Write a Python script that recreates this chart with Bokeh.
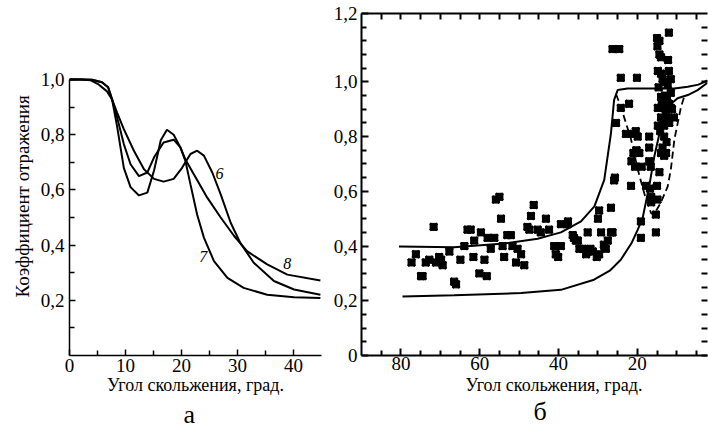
from bokeh.plotting import figure
from bokeh.models import Range1d, FixedTicker, LinearAxis, Title, CustomJSTickFormatter
from bokeh.layouts import row
from bokeh.embed import file_html
from bokeh.resources import INLINE

FONT = "Liberation Serif, serif"

# ---------------- panel a: reflection coefficient curves ----------------
x_label_text = "Угол скольжения, град."
a_ylabel = "Коэффициент отражения"
panel_names = ["а", "б"]
a_xticks = [0, 10, 20, 30, 40]
a_xminor = [5, 15, 25, 35]
a_yticks = [0.2, 0.4, 0.6, 0.8, 1.0]
a_yminor = [0.1, 0.3, 0.5, 0.7, 0.9]

c6_angle = [0, 2, 3.8, 5.2, 6.7, 7.6, 8.5, 9.7, 11.5, 13.3, 15.1, 16.8, 18.6, 20.1, 21.6,
            22.8, 24.0, 25.5, 27.0, 28.8, 30.5, 32.9, 36.5, 40.1, 44.8]
c6_coef = [1.0, 1.0, 0.997, 0.982, 0.957, 0.928, 0.88, 0.82, 0.742, 0.675, 0.64, 0.63, 0.64,
           0.68, 0.73, 0.742, 0.724, 0.663, 0.584, 0.48, 0.408, 0.336, 0.27, 0.239, 0.22]

c7_angle = [0, 2, 4, 5.8, 6.9, 7.6, 8.5, 9.7, 10.9, 12.4, 13.9, 15.1, 16.3, 17.4, 18.6,
            19.8, 20.7, 21.6, 22.8, 24.0, 25.8, 28.2, 31.1, 35.3, 40.1, 44.8]
c7_coef = [1.0, 1.0, 0.999, 0.99, 0.972, 0.928, 0.83, 0.68, 0.61, 0.58, 0.59, 0.67, 0.78,
           0.818, 0.80, 0.754, 0.705, 0.62, 0.51, 0.427, 0.342, 0.281, 0.245, 0.22, 0.211, 0.208]

c8_angle = [0, 2, 4, 5.8, 6.9, 7.6, 8.5, 9.7, 10.9, 12.4, 13.9, 15.1, 16.8, 18.6, 19.8,
            20.7, 22.2, 24.6, 27.0, 29.4, 31.7, 35.3, 38.9, 44.8]
c8_coef = [1.0, 1.0, 0.999, 0.99, 0.972, 0.928, 0.863, 0.766, 0.693, 0.65, 0.663, 0.718,
           0.772, 0.782, 0.754, 0.71, 0.657, 0.572, 0.50, 0.433, 0.378, 0.33, 0.293, 0.272]

curve_names = ["6", "7", "8"]
curve_label_x = [26.8, 23.9, 38.9]
curve_label_y = [0.66, 0.359, 0.334]

# ---------------- panel b: measurements and model envelope ----------------
b_xticks = [80, 60, 40, 20]
b_xminor = [85, 75, 70, 65, 55, 50, 45, 35, 30, 25, 15, 10, 5]
b_yticks = [0, 0.2, 0.4, 0.6, 0.8, 1.0, 1.25]
b_yminor = [0.05, 0.1, 0.15, 0.25, 0.3, 0.35, 0.45, 0.5, 0.55, 0.65, 0.7, 0.75, 0.85, 0.9,
            0.95, 1.05, 1.1, 1.15, 1.2]

upper_angle = [80.5, 66.5, 53.8, 45.3, 39.4, 34.3, 30.9, 28.4, 26.7, 25.9, 25.0, 22.5,
               15.7, 10.6, 7.2, 4.5, 2.2]
upper_coef = [0.398, 0.396, 0.409, 0.427, 0.45, 0.49, 0.545, 0.642, 0.812, 0.934, 0.97,
              0.976, 0.976, 0.976, 0.982, 0.99, 1.005]

lower_angle = [79.6, 66.5, 49.5, 39.4, 31.0, 27.0, 24.2, 21.5, 19.9, 18.7, 17.0, 15.7,
               14.0, 12.3, 9.8, 7.2, 4.7, 2.2]
lower_coef = [0.216, 0.22, 0.228, 0.24, 0.277, 0.31, 0.35, 0.41, 0.46, 0.50, 0.618, 0.727,
              0.836, 0.909, 0.94, 0.952, 0.97, 0.997]

dash_angle = [25.4, 24.2, 21.6, 19.9, 18.0, 16.5, 15.8, 14.0, 12.3, 11.5, 10.6, 8.9, 8.1, 7.2]
dash_coef = [0.955, 0.91, 0.79, 0.68, 0.58, 0.52, 0.515, 0.56, 0.618, 0.68, 0.79, 0.91,
             0.946, 0.952]

meas_angle = [77.3, 76.2, 74.9, 74.5, 73.7, 72.8, 71.7, 71.1, 70.3, 69.8, 69.4, 67.7, 66.5,
              66.0, 64.9, 63.9, 63.1, 62.3, 61.6, 61.4, 60.1, 59.7, 58.8, 58.2, 58.0, 57.2,
              56.3, 55.9, 55.0, 54.6, 54.2, 53.8, 53.0, 52.1, 51.7, 50.8, 50.4, 49.5, 48.7,
              47.9, 47.4, 47.0, 46.3, 45.3, 44.5, 43.2, 42.4, 41.1, 40.7, 40.1, 39.4, 39.4,
              37.7, 37.6, 36.4, 36.1, 35.6, 35.1, 34.7, 33.8, 33.0, 32.6, 32.5, 31.9, 31.3,
              30.3, 30.0, 29.7, 29.7, 29.2, 28.5, 28.0, 28.4, 27.5, 26.7, 26.7, 26.3, 25.9,
              25.7, 25.4, 26.3, 24.6, 24.2, 20.1, 24.2, 22.1, 22.9, 21.1, 20.4, 20.2, 21.0,
              21.5, 20.6, 21.6, 19.9, 19.5, 18.9, 19.1, 19.1, 17.0, 17.0, 17.0, 16.6, 17.8,
              16.8, 16.5, 16.5, 15.0, 15.3, 15.3, 15.0, 14.4, 14.9, 12.0, 14.4, 14.0, 12.2,
              14.8, 12.0, 14.0, 13.6, 13.2, 11.5, 14.0, 12.5, 11.5, 14.8, 13.2, 11.5, 14.0,
              12.5, 10.7, 14.8, 13.2, 11.9, 13.2, 13.6, 14.0, 13.2, 14.4, 12.7, 14.9,
              13.8, 12.8, 14.2, 12.0, 11.2, 13.0, 12.3, 14.6, 13.4, 12.6]
meas_coef = [0.34, 0.37, 0.29, 0.29, 0.34, 0.35, 0.47, 0.34, 0.36, 0.35, 0.33, 0.38, 0.27,
             0.26, 0.35, 0.40, 0.46, 0.46, 0.36, 0.42, 0.30, 0.45, 0.35, 0.29, 0.43, 0.39,
             0.43, 0.57, 0.58, 0.50, 0.40, 0.36, 0.44, 0.44, 0.40, 0.34, 0.39, 0.37, 0.33,
             0.47, 0.46, 0.51, 0.55, 0.46, 0.45, 0.50, 0.46, 0.40, 0.37, 0.36, 0.40, 0.48,
             0.48, 0.49, 0.44, 0.43, 0.42, 0.42, 0.39, 0.39, 0.37, 0.45, 0.38, 0.39, 0.38,
             0.36, 0.50, 0.53, 0.37, 0.45, 0.405, 0.39, 0.40, 0.42, 0.54, 0.45, 0.45, 0.64,
             0.65, 0.85, 1.12, 1.12, 1.015, 1.015, 0.905, 0.92, 0.81, 0.81, 0.82, 0.75, 0.74,
             0.71, 0.69, 0.62, 0.80, 0.74, 0.69, 0.49, 0.43, 0.80, 0.76, 0.71, 0.69, 0.62,
             0.61, 0.58, 0.56, 0.62, 0.515, 0.45, 1.16, 1.15, 1.13, 1.18, 1.10, 1.09, 1.08,
             1.04, 1.04, 1.03, 1.01, 1.00, 1.01, 0.945, 0.945, 0.96, 0.905, 0.905, 0.905, 0.87,
             0.87, 0.87, 0.84, 0.84, 0.85, 0.80, 0.76, 0.74, 0.73, 0.67, 0.74, 0.57,
             0.93, 0.88, 0.82, 0.92, 0.90, 0.95, 0.99, 0.98, 0.86, 0.78]

comma_fmt = CustomJSTickFormatter(code="""
if (Math.abs(tick) < 1e-9) { return "0"; }
if (Math.abs(tick - 1.25) < 1e-6) { return "1,2"; }
return tick.toFixed(1).replace('.', ',');
""")


def style_axis(ax, major_in, minor_in, lw):
    ax.major_tick_in = major_in
    ax.major_tick_out = 0
    ax.minor_tick_in = minor_in
    ax.minor_tick_out = 0
    ax.axis_line_width = lw
    ax.major_tick_line_width = lw
    ax.minor_tick_line_width = lw
    ax.axis_line_color = "black"
    ax.major_tick_line_color = "black"
    ax.minor_tick_line_color = "black"
    ax.major_label_text_font = FONT
    ax.major_label_text_font_size = "19px"
    ax.major_label_text_color = "black"


def make_title(text, size, align="center", offset=0, standoff=0):
    return Title(text=text, align=align, offset=offset, standoff=standoff,
                 text_font=FONT, text_font_size=size, text_font_style="normal",
                 text_color="black")


H = 432
TOP = 13
BOTTOM = 77
FRAME_H = H - TOP - BOTTOM   # 342 px

# ---------- figure a ----------
pa = figure(width=330, height=H, x_range=Range1d(0, 45),
            y_range=Range1d(0, FRAME_H / 276.0),
            min_border_left=69, min_border_right=9, min_border_top=TOP, min_border_bottom=BOTTOM,
            output_backend="svg", toolbar_location=None)
pa.outline_line_color = None
pa.xgrid.visible = False
pa.ygrid.visible = False
pa.xaxis.ticker = FixedTicker(ticks=a_xticks, minor_ticks=a_xminor)
pa.yaxis.ticker = FixedTicker(ticks=a_yticks, minor_ticks=a_yminor)
pa.yaxis.formatter = comma_fmt
pa.yaxis.bounds = (0, 1.0)
style_axis(pa.xaxis[0], 6, 5, 1.5)
style_axis(pa.yaxis[0], 6, 5, 1.5)
pa.xaxis.major_label_standoff = 3
pa.yaxis.major_label_standoff = 5
pa.xaxis.axis_label = x_label_text
pa.xaxis.axis_label_text_font = FONT
pa.xaxis.axis_label_text_font_size = "18px"
pa.xaxis.axis_label_text_font_style = "normal"
pa.xaxis.axis_label_text_color = "black"
pa.xaxis.axis_label_standoff = 0

for xs, ys in [(c6_angle, c6_coef), (c7_angle, c7_coef), (c8_angle, c8_coef)]:
    pa.line(xs, ys, line_color="black", line_width=2)

pa.text(x=curve_label_x, y=curve_label_y, text=curve_names, text_font_size="16px",
        text_font_style="italic", text_align="center", text_baseline="middle",
        text_color="black", text_font={"value": FONT})

pa.add_layout(make_title(a_ylabel, "19px", align="left", offset=58, standoff=10), "left")
pa.add_layout(make_title(panel_names[0], "26px", align="left", offset=114), "below")

# ---------- figure b ----------
pb = figure(width=378, height=H, x_range=Range1d(90, 2.2),
            y_range=Range1d(0, 1.25),
            min_border_left=31, min_border_right=1, min_border_top=TOP, min_border_bottom=BOTTOM,
            output_backend="svg", toolbar_location=None)
pb.outline_line_color = None
pb.xgrid.visible = False
pb.ygrid.visible = False
pb.xaxis.ticker = FixedTicker(ticks=b_xticks, minor_ticks=b_xminor)
pb.yaxis.ticker = FixedTicker(ticks=b_yticks, minor_ticks=b_yminor)
pb.yaxis.formatter = comma_fmt
style_axis(pb.xaxis[0], 7, 5, 2)
style_axis(pb.yaxis[0], 7, 5, 2)
pb.xaxis.major_label_standoff = 1
pb.yaxis.major_label_standoff = 4

# top and right frame edges: tick marks only (no labels)
top_ax = LinearAxis(ticker=FixedTicker(ticks=[], minor_ticks=b_xticks + b_xminor))
style_axis(top_ax, 6, 6, 2)
top_ax.major_label_standoff = 0
pb.add_layout(top_ax, "above")

right_ax = LinearAxis(ticker=FixedTicker(ticks=[], minor_ticks=b_yticks[:-1] + b_yminor))
style_axis(right_ax, 6, 6, 2)
right_ax.axis_line_color = None
right_ax.major_label_standoff = 0
pb.add_layout(right_ax, "right")

pb.line(upper_angle, upper_coef, line_color="black", line_width=2)
pb.line(lower_angle, lower_coef, line_color="black", line_width=2)
pb.line(dash_angle, dash_coef, line_color="black", line_width=1.8, line_dash="7 4")

pb.scatter(meas_angle, meas_coef, marker="square", size=7, fill_color="black", line_color="black")
pb.scatter(meas_angle, meas_coef, marker="x", size=10, line_color="black", line_width=2.5)

pb.add_layout(make_title(x_label_text, "18px", align="left", offset=104), "below")
pb.add_layout(make_title(panel_names[1], "26px", align="left", offset=172), "below")

layout = row(pa, pb)
open("out.html", "w").write(file_html(layout, INLINE))
